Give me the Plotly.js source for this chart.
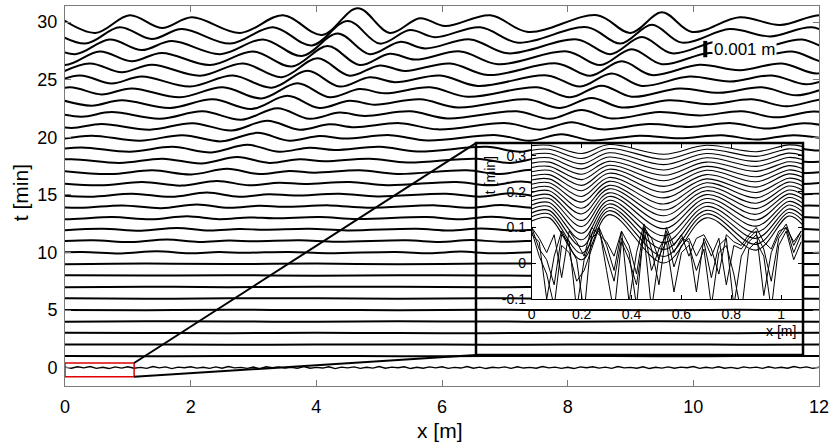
<!DOCTYPE html>
<html><head><meta charset="utf-8">
<script src="https://cdn.plot.ly/plotly-3.0.1.min.js"></script>
<style>html,body{margin:0;padding:0;background:#fff}#chart{width:840px;height:442px}</style>
</head><body><div id="chart"></div>
<script>
// bed-elevation scale: plot offset in minutes per mm of elevation
const SCALE = 1.42;
const MAIN_TICKS_X = [0,2,4,6,8,10,12];
const MAIN_TICKS_Y = [0,5,10,15,20,25,30];
const INSET_TICKS_X = [0,0.2,0.4,0.6,0.8,1];
const INSET_TICKS_Y = [-0.1,0,0.1,0.2,0.3];

// profiles: x [m], elevation h [mm]
const x30=[-0.10,0.48,1.03,1.54,2.02,2.79,3.47,4.09,4.66,5.17,5.65,6.05,6.77,7.37,8.47,9.00,9.50,9.98,10.74,11.38,12.05,12.60];
const h30=[0.32,-0.66,0.42,-0.36,0.30,-0.66,0.42,-0.78,0.85,-0.66,0.24,-0.24,0.42,-0.60,0.42,-0.66,0.60,-0.60,0.30,-0.18,0.42,-0.45];
const x29=[-0.26,0.32,0.87,1.38,1.86,2.63,3.31,3.93,4.50,5.01,5.49,5.89,6.61,7.21,8.31,8.84,9.34,9.82,10.58,11.22,11.89,12.44,13.04];
const h29=[0.29,-0.61,0.39,-0.33,0.28,-0.61,0.39,-0.72,0.78,-0.61,0.22,-0.22,0.39,-0.55,0.39,-0.61,0.55,-0.55,0.28,-0.17,0.39,-0.41,0.37];
const x28=[-0.42,0.16,0.71,1.22,1.70,2.47,3.15,3.77,4.34,4.85,5.33,5.73,6.45,7.05,8.15,8.68,9.18,9.66,10.42,11.06,11.73,12.28,12.88];
const h28=[0.27,-0.55,0.35,-0.30,0.25,-0.55,0.35,-0.66,0.71,-0.55,0.20,-0.20,0.35,-0.50,0.35,-0.55,0.50,-0.50,0.25,-0.15,0.35,-0.38,0.34];
const x27=[-0.58,0.00,0.55,1.06,1.54,2.31,2.99,3.61,4.18,4.69,5.17,5.57,6.29,6.89,7.99,8.52,9.02,9.50,10.26,10.90,11.57,12.12,12.72];
const h27=[0.25,-0.51,0.32,-0.28,0.23,-0.51,0.32,-0.60,0.65,-0.51,0.18,-0.18,0.32,-0.46,0.32,-0.51,0.46,-0.46,0.23,-0.14,0.32,-0.35,0.31];
const x26=[-0.16,0.39,0.90,1.38,2.15,2.83,3.45,4.02,4.53,5.01,5.41,6.13,6.73,7.83,8.36,8.86,9.34,10.10,10.74,11.41,11.96,12.56];
const h26=[-0.46,0.29,-0.25,0.21,-0.46,0.29,-0.55,0.60,-0.46,0.17,-0.17,0.29,-0.42,0.29,-0.46,0.42,-0.42,0.21,-0.13,0.29,-0.32,0.28];
const x25=[-0.32,0.23,0.74,1.22,1.99,2.67,3.29,3.86,4.37,4.85,5.25,5.97,6.57,7.67,8.20,8.70,9.18,9.94,10.58,11.25,11.80,12.40,12.95];
const h25=[-0.42,0.26,-0.23,0.19,-0.42,0.26,-0.49,0.54,-0.42,0.15,-0.15,0.26,-0.38,0.26,-0.42,0.38,-0.38,0.19,-0.11,0.26,-0.28,0.25,-0.25];
const x24=[-0.48,0.07,0.58,1.06,1.83,2.51,3.13,3.70,4.21,4.69,5.09,5.81,6.41,7.51,8.04,8.54,9.02,9.78,10.42,11.09,11.64,12.24,12.79];
const h24=[-0.37,0.24,-0.20,0.17,-0.37,0.24,-0.44,0.48,-0.37,0.13,-0.13,0.24,-0.34,0.24,-0.37,0.34,-0.34,0.17,-0.10,0.24,-0.25,0.22,-0.22];
const x23=[-0.09,0.42,0.90,1.67,2.35,2.97,3.54,4.05,4.53,4.93,5.65,6.25,7.35,7.88,8.38,8.86,9.62,10.26,10.93,11.48,12.08,12.63];
const h23=[0.21,-0.18,0.15,-0.32,0.21,-0.38,0.42,-0.32,0.12,-0.12,0.21,-0.29,0.21,-0.32,0.29,-0.29,0.15,-0.09,0.21,-0.22,0.20,-0.20];
const x22=[-0.25,0.26,0.74,1.51,2.19,2.81,3.38,3.89,4.37,4.77,5.49,6.09,7.19,7.72,8.22,8.70,9.46,10.10,10.77,11.32,11.92,12.47];
const h22=[0.18,-0.15,0.13,-0.28,0.18,-0.34,0.37,-0.28,0.10,-0.10,0.18,-0.26,0.18,-0.28,0.26,-0.26,0.13,-0.08,0.18,-0.19,0.17,-0.17];
const x21=[-0.41,0.10,0.58,1.35,2.03,2.65,3.22,3.73,4.21,4.61,5.33,5.93,7.03,7.56,8.06,8.54,9.30,9.94,10.61,11.16,11.76,12.31];
const h21=[0.16,-0.13,0.11,-0.24,0.16,-0.29,0.31,-0.24,0.09,-0.09,0.16,-0.22,0.16,-0.24,0.22,-0.22,0.11,-0.07,0.16,-0.17,0.15,-0.15];
const x20=[-0.06,0.42,1.19,1.87,2.49,3.06,3.57,4.05,4.45,5.17,5.77,6.87,7.40,7.90,8.38,9.14,9.78,10.45,11.00,11.60,12.15];
const h20=[-0.12,0.10,-0.21,0.13,-0.25,0.27,-0.21,0.08,-0.08,0.13,-0.19,0.13,-0.21,0.19,-0.19,0.10,-0.06,0.13,-0.14,0.13,-0.13];
const x19=[-0.22,0.26,1.03,1.71,2.33,2.90,3.41,3.89,4.29,5.01,5.61,6.71,7.24,7.74,8.22,8.98,9.62,10.29,10.84,11.44,11.99,12.64];
const h19=[-0.10,0.08,-0.18,0.12,-0.22,0.24,-0.18,0.07,-0.07,0.12,-0.17,0.12,-0.18,0.17,-0.17,0.08,-0.05,0.12,-0.13,0.11,-0.11,0.11];
const x18=[-0.38,0.10,0.87,1.55,2.17,2.74,3.25,3.73,4.13,4.85,5.45,6.55,7.08,7.58,8.06,8.82,9.46,10.13,10.68,11.28,11.83,12.48];
const h18=[-0.09,0.07,-0.16,0.10,-0.19,0.20,-0.16,0.06,-0.06,0.10,-0.14,0.10,-0.16,0.14,-0.14,0.07,-0.04,0.10,-0.11,0.10,-0.10,0.09];
const x17=[-0.06,0.71,1.39,2.01,2.58,3.09,3.57,3.97,4.69,5.29,6.39,6.92,7.42,7.90,8.66,9.30,9.97,10.52,11.12,11.67,12.32];
const h17=[0.06,-0.14,0.09,-0.16,0.18,-0.14,0.05,-0.05,0.09,-0.13,0.09,-0.14,0.13,-0.13,0.06,-0.04,0.09,-0.09,0.08,-0.08,0.08];
const x16=[-0.22,0.55,1.23,1.85,2.42,2.93,3.41,3.81,4.53,5.13,6.23,6.76,7.26,7.74,8.50,9.14,9.81,10.36,10.96,11.51,12.16];
const h16=[0.05,-0.12,0.08,-0.14,0.15,-0.12,0.04,-0.04,0.08,-0.11,0.08,-0.12,0.11,-0.11,0.05,-0.03,0.08,-0.08,0.07,-0.07,0.07];
const x15=[-0.38,0.39,1.07,1.69,2.26,2.77,3.25,3.65,4.37,4.97,6.07,6.60,7.10,7.58,8.34,8.98,9.65,10.20,10.80,11.35,12.00,12.55];
const h15=[0.05,-0.11,0.07,-0.12,0.14,-0.11,0.04,-0.04,0.07,-0.10,0.07,-0.11,0.10,-0.10,0.05,-0.03,0.07,-0.07,0.06,-0.06,0.06,-0.07];
const x14=[-0.54,0.23,0.91,1.53,2.10,2.61,3.09,3.49,4.21,4.81,5.91,6.44,6.94,7.42,8.18,8.82,9.49,10.04,10.64,11.19,11.84,12.39];
const h14=[0.04,-0.09,0.06,-0.11,0.12,-0.09,0.03,-0.03,0.06,-0.08,0.06,-0.09,0.08,-0.08,0.04,-0.03,0.06,-0.06,0.06,-0.06,0.05,-0.06];
const x13=[-0.70,0.07,0.75,1.37,1.94,2.45,2.93,3.33,4.05,4.65,5.75,6.28,6.78,7.26,8.02,8.66,9.33,9.88,10.48,11.03,11.68,12.23];
const h13=[0.04,-0.08,0.05,-0.09,0.10,-0.08,0.03,-0.03,0.05,-0.07,0.05,-0.08,0.07,-0.07,0.04,-0.02,0.05,-0.05,0.05,-0.05,0.05,-0.05];
const x12=[-0.09,0.59,1.21,1.78,2.29,2.77,3.17,3.89,4.49,5.59,6.12,6.62,7.10,7.86,8.50,9.17,9.72,10.32,10.87,11.52,12.07];
const h12=[-0.07,0.04,-0.08,0.09,-0.07,0.02,-0.02,0.04,-0.06,0.04,-0.07,0.06,-0.06,0.03,-0.02,0.04,-0.05,0.04,-0.04,0.04,-0.04];
const x11=[-0.25,0.43,1.05,1.62,2.13,2.61,3.01,3.73,4.33,5.43,5.96,6.46,6.94,7.70,8.34,9.01,9.56,10.16,10.71,11.36,11.91,12.46];
const h11=[-0.06,0.04,-0.07,0.08,-0.06,0.02,-0.02,0.04,-0.05,0.04,-0.06,0.05,-0.05,0.03,-0.02,0.04,-0.04,0.04,-0.04,0.03,-0.04,0.03];
const x10=[-0.41,0.27,0.89,1.46,1.97,2.45,2.85,3.57,4.17,5.27,5.80,6.30,6.78,7.54,8.18,8.85,9.40,10.00,10.55,11.20,11.75,12.30];
const h10=[-0.05,0.03,-0.06,0.07,-0.05,0.02,-0.02,0.03,-0.05,0.03,-0.05,0.05,-0.05,0.02,-0.01,0.03,-0.04,0.03,-0.03,0.03,-0.03,0.03];
const flatX=[0,1.3,2.6,4.0,5.3,6.7,8.0,9.4,10.7,12.0];
const h9=[-0.02,0.02,-0.01,0.02,-0.02,0.02,0.01,-0.02,0.02,-0.01];
const h8=[0.02,-0.01,0.02,-0.02,0.01,0.00,-0.02,0.02,-0.01,0.01];
const h7=[-0.01,0.02,-0.01,0.01,0.02,-0.02,0.01,-0.01,0.02,0.00];
const h6=[0.01,-0.02,0.01,0.01,-0.01,0.02,-0.01,0.00,0.01,-0.01];
const h5=[0.00,-0.01,0.01,0.00,-0.01,0.01,0.00,-0.01,0.01,0.00];
const h4=[-0.01,0.01,0.00,-0.01,0.01,0.00,-0.01,0.01,0.00,-0.01];
const h3=[0.01,0.00,-0.01,0.01,0.00,-0.01,0.01,0.00,-0.01,0.01];
const h2=[0.00,0.01,-0.01,0.00,0.01,-0.01,0.00,0.01,-0.01,0.00];
const h1=[0.01,-0.01,0.00,0.01,-0.01,0.00,0.01,-0.01,0.00,0.01];
// initial (t = 0) scan, noisy
const x0=[0,0.1,0.2,0.3,0.4,0.5,0.6,0.7,0.8,0.9,1,1.1,1.2,1.3,1.4,1.5,1.6,1.7,1.8,1.9,
2,2.1,2.2,2.3,2.4,2.5,2.6,2.7,2.8,2.9,3,3.1,3.2,3.3,3.4,3.5,3.6,3.7,3.8,3.9,
4,4.1,4.2,4.3,4.4,4.5,4.6,4.7,4.8,4.9,5,5.1,5.2,5.3,5.4,5.5,5.6,5.7,5.8,5.9,
6,6.1,6.2,6.3,6.4,6.5,6.6,6.7,6.8,6.9,7,7.1,7.2,7.3,7.4,7.5,7.6,7.7,7.8,7.9,
8,8.1,8.2,8.3,8.4,8.5,8.6,8.7,8.8,8.9,9,9.1,9.2,9.3,9.4,9.5,9.6,9.7,9.8,9.9,
10,10.1,10.2,10.3,10.4,10.5,10.6,10.7,10.8,10.9,11,11.1,11.2,11.3,11.4,11.5,11.6,11.7,11.8,11.9,12];
const h0=[0.03,-0.04,0.05,-0.02,0.06,-0.05,0.02,-0.06,0.04,-0.03,
0.05,-0.04,0.01,-0.05,0.06,-0.02,0.04,-0.06,0.03,-0.01,
0.05,-0.03,0.02,-0.05,0.04,-0.04,0.06,-0.02,0.01,-0.05,
0.03,-0.06,0.05,-0.01,0.04,-0.03,0.02,-0.05,0.06,-0.04,
0.01,-0.03,0.05,-0.06,0.03,-0.02,0.04,-0.05,0.02,-0.03,
0.06,-0.04,0.03,-0.01,0.05,-0.06,0.02,-0.04,0.04,-0.02,
0.05,-0.05,0.01,-0.03,0.06,-0.04,0.03,-0.06,0.02,-0.02,
0.04,-0.05,0.05,-0.03,0.01,-0.04,0.06,-0.02,0.03,-0.05,
0.02,-0.06,0.04,-0.01,0.05,-0.03,0.03,-0.05,0.06,-0.02,
0.01,-0.04,0.05,-0.06,0.02,-0.03,0.04,-0.04,0.03,-0.01,
0.06,-0.05,0.02,-0.03,0.05,-0.04,0.01,-0.06,0.04,-0.02,
0.03,-0.05,0.05,-0.03,0.02,-0.04,0.06,-0.02,0.04,-0.05,0.02];

// inset: smooth scans (absolute t [min] at each x)
const insetX=[0,0.07,0.2,0.31,0.53,0.7,0.9,1.03,1.084];
const s01=[0.118,0.127,0.010,0.136,0.001,0.127,0.037,0.132,0.109];
const s02=[0.130,0.138,0.028,0.147,0.019,0.138,0.053,0.142,0.121];
const s03=[0.141,0.148,0.047,0.156,0.039,0.148,0.070,0.152,0.133];
const s04=[0.152,0.159,0.066,0.166,0.058,0.159,0.087,0.163,0.145];
const s05=[0.163,0.170,0.084,0.176,0.077,0.170,0.104,0.173,0.157];
const s06=[0.175,0.181,0.103,0.187,0.097,0.181,0.121,0.184,0.169];
const s07=[0.186,0.192,0.120,0.197,0.115,0.192,0.137,0.194,0.181];
const s08=[0.198,0.203,0.138,0.208,0.133,0.203,0.153,0.205,0.193];
const s09=[0.209,0.214,0.154,0.218,0.149,0.214,0.168,0.216,0.205];
const s10=[0.221,0.225,0.171,0.229,0.166,0.225,0.183,0.227,0.217];
const s11=[0.233,0.236,0.187,0.240,0.183,0.236,0.198,0.238,0.229];
const s12=[0.244,0.248,0.203,0.252,0.199,0.248,0.213,0.250,0.241];
const s13=[0.256,0.260,0.218,0.263,0.215,0.260,0.228,0.261,0.253];
const s14=[0.268,0.271,0.234,0.274,0.231,0.271,0.242,0.273,0.265];
const s15=[0.280,0.283,0.249,0.285,0.246,0.283,0.257,0.284,0.278];
const s16=[0.292,0.295,0.264,0.297,0.261,0.295,0.271,0.296,0.290];
const s17=[0.304,0.307,0.278,0.309,0.276,0.307,0.285,0.308,0.302];
const s18=[0.316,0.319,0.293,0.321,0.291,0.319,0.299,0.320,0.315];
const s19=[0.329,0.330,0.307,0.332,0.305,0.330,0.312,0.331,0.327];
// inset: early noisy scans
const noiseX=[0,0.03,0.06,0.09,0.12,0.15,0.18,0.21,0.24,0.27,0.30,0.33,0.36,0.39,0.42,0.45,0.48,0.51,0.54,0.57,0.60,0.63,0.66,0.69,0.72,0.75,0.78,0.81,0.84,0.87,0.90,0.93,0.96,0.99,1.02,1.05,1.08];
const nz1=[0.09,0.02,-0.03,-0.12,0.05,0.03,-0.05,-0.02,0.04,0.10,-0.02,-0.14,0.06,0.01,-0.06,0.08,-0.13,0.02,0.06,-0.08,0.03,0.05,-0.02,0.04,-0.12,0.03,0.05,-0.03,-0.14,0.04,0.06,0.02,-0.13,0.05,0.09,0.01,0.06];
const nz2=[0.10,0.04,0.01,-0.06,0.08,0.06,-0.13,0.01,0.07,0.09,0.02,-0.05,0.07,0.03,-0.12,0.10,-0.02,0.04,0.08,-0.01,0.05,0.07,0.02,0.06,-0.04,0.05,0.07,-0.12,0.02,0.06,0.08,0.04,-0.05,0.07,0.10,0.03,0.08];
const nz3=[0.08,0.06,-0.10,0.02,0.09,0.05,0.01,-0.14,0.08,0.10,0.05,-0.02,0.09,-0.11,0.03,0.11,0.04,-0.06,0.09,0.03,0.07,0.06,-0.08,0.07,0.02,0.07,-0.06,0.05,0.04,0.07,0.09,-0.09,0.03,0.08,0.11,0.05,0.09];
const nz4=[0.10,0.07,0.03,0.08,-0.04,0.09,0.06,0.02,0.10,0.08,0.06,0.02,0.09,0.05,-0.03,0.10,0.07,0.01,0.10,0.05,0.08,0.02,0.07,0.08,0.04,-0.03,0.08,0.06,0.05,0.08,0.10,0.06,0.04,0.09,0.10,0.06,0.09];

// scale bar location
const barX = 10.19, barBase = 26.95, barMM = 1.0;

const mainProfiles = [
 [1,flatX,h1],[2,flatX,h2],[3,flatX,h3],[4,flatX,h4],[5,flatX,h5],[6,flatX,h6],[7,flatX,h7],[8,flatX,h8],[9,flatX,h9],
 [10,x10,h10],[11,x11,h11],[12,x12,h12],[13,x13,h13],[14,x14,h14],[15,x15,h15],[16,x16,h16],[17,x17,h17],[18,x18,h18],[19,x19,h19],
 [20,x20,h20],[21,x21,h21],[22,x22,h22],[23,x23,h23],[24,x24,h24],[25,x25,h25],[26,x26,h26],[27,x27,h27],[28,x28,h28],[29,x29,h29],[30,x30,h30]
];

const traces = [];
traces.push({x:x0, y:h0.map(h=>0+h*SCALE), mode:'lines', line:{color:'#000',width:1.4},
  xaxis:'x', yaxis:'y', hoverinfo:'skip', showlegend:false});
mainProfiles.forEach(([t,xs,hs])=>{
  traces.push({x:xs, y:hs.map(h=>t+h*SCALE), mode:'lines',
    line:{color:'#000',width:2,shape:'spline',smoothing:1},
    xaxis:'x', yaxis:'y', hoverinfo:'skip', showlegend:false});
});
traces.push({x:[barX,barX], y:[barBase, barBase+barMM*SCALE], mode:'lines',
  line:{color:'#000',width:4}, xaxis:'x', yaxis:'y', hoverinfo:'skip', showlegend:false});

[nz1,nz2,nz3,nz4].forEach(ys=>{
  traces.push({x:noiseX, y:ys, mode:'lines', line:{color:'#000',width:1},
    xaxis:'x3', yaxis:'y3', hoverinfo:'skip', showlegend:false});
});
[s01,s02,s03,s04,s05,s06,s07,s08,s09,s10,s11,s12,s13,s14,s15,s16,s17,s18,s19].forEach(ys=>{
  traces.push({x:insetX, y:ys, mode:'lines', line:{color:'#000',width:1.1,shape:'spline',smoothing:1},
    xaxis:'x3', yaxis:'y3', hoverinfo:'skip', showlegend:false});
});

const FONT = 'Liberation Sans, Arial, sans-serif';
const grey = '#7a7a7a';
const layout = {
  width:840, height:442,
  margin:{l:65, r:21, t:6, b:56},
  paper_bgcolor:'#fff', plot_bgcolor:'#fff',
  font:{family:FONT, color:'#000', size:18},
  showlegend:false,
  xaxis:{range:[0,12], domain:[0,1], tickvals:MAIN_TICKS_X, ticks:'inside', ticklen:6, tickcolor:grey,
    showline:true, linecolor:grey, linewidth:1, mirror:'ticks', showgrid:false, zeroline:false,
    tickfont:{size:18}, ticklabelstandoff:4, anchor:'y'},
  yaxis:{range:[-1.6,31.4], domain:[0,1], tickvals:MAIN_TICKS_Y, ticks:'inside', ticklen:6, tickcolor:grey,
    showline:true, linecolor:grey, linewidth:1, mirror:'ticks', showgrid:false, zeroline:false,
    tickfont:{size:18}, ticklabelstandoff:3, anchor:'x'},
  // white box behind the inset
  xaxis2:{domain:[0.5451,0.9788], range:[0,1], anchor:'y2', showline:false, showgrid:false, zeroline:false,
    showticklabels:false, ticks:''},
  yaxis2:{domain:[0.0816,0.6395], range:[0,1], anchor:'x2', showline:false, showgrid:false, zeroline:false,
    showticklabels:false, ticks:''},
  // inset axes
  xaxis3:{domain:[0.619,0.9777], range:[0,1.084], anchor:'y3', tickvals:INSET_TICKS_X, ticktext:['0','0.2','0.4','0.6','0.8','1'],
    ticks:'inside', ticklen:4, tickcolor:'#000', showline:true, linecolor:'#000', linewidth:1, mirror:'ticks',
    showgrid:false, zeroline:false, tickfont:{size:14}, ticklabelstandoff:2},
  yaxis3:{domain:[0.2287,0.6368], range:[-0.1,0.3335], anchor:'x3', tickvals:INSET_TICKS_Y, ticktext:['-0.1','0','0.1','0.2','0.3'],
    ticks:'inside', ticklen:4, tickcolor:'#000', showline:true, linecolor:'#000', linewidth:1, mirror:'ticks',
    showgrid:false, zeroline:false, tickfont:{size:14}, ticklabelstandoff:2},
  shapes:[
    {type:'rect', xref:'x', yref:'y', x0:0, x1:1.1, y0:-0.8, y1:0.4, line:{color:'#e00000',width:1.5}, layer:'above'},
    {type:'line', xref:'x', yref:'y', x0:1.1, y0:0.4, x1:6.54, y1:19.49, line:{color:'#000',width:2}, layer:'above'},
    {type:'line', xref:'x', yref:'y', x0:1.1, y0:-0.8, x1:6.54, y1:1.09, line:{color:'#000',width:2}, layer:'above'},
    {type:'rect', xref:'paper', yref:'paper', x0:0.5451, x1:0.9788, y0:0.0816, y1:0.6395, line:{color:'#000',width:2.5}, layer:'above'}
  ],
  annotations:[
    {text:'0.001 m', xref:'x', yref:'y', x:10.30, y:27.65, xanchor:'left', yanchor:'middle', showarrow:false,
      bgcolor:'#fff', borderpad:1, font:{size:17}},
    {text:'t [min]', xref:'paper', yref:'paper', x:-0.0597, y:0.51, xanchor:'center', yanchor:'middle', textangle:-90, showarrow:false, font:{size:21}},
    {text:'x [m]', xref:'paper', yref:'paper', x:0.497, y:-0.118, xanchor:'center', yanchor:'middle', showarrow:false, font:{size:21}},
    {text:'t [min]', xref:'paper', yref:'paper', x:0.5637, y:0.555, xanchor:'center', yanchor:'middle', textangle:-90, showarrow:false, font:{size:14}},
    {text:'x [m]', xref:'paper', yref:'paper', x:0.972, y:0.145, xanchor:'right', yanchor:'middle', showarrow:false, font:{size:14}}
  ]
};
Plotly.newPlot('chart', traces, layout, {staticPlot:true, displayModeBar:false});
</script></body></html>
